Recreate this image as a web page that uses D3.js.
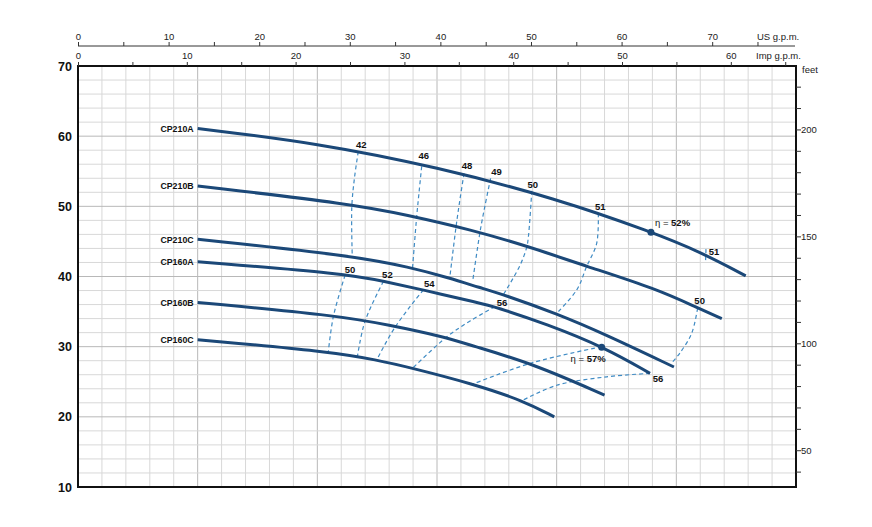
<!DOCTYPE html>
<html><head><meta charset="utf-8">
<script src="https://cdn.jsdelivr.net/npm/d3@7"></script>
<style>
body{margin:0;background:#fff}
text{font-family:"Liberation Sans",Arial,Helvetica,sans-serif}
</style>
</head><body>
<svg id="chart" width="872" height="527"></svg>
<script>
// ---------- DATA (flow in l/min, head in m) ----------
const pumpNames = ["CP210A","CP210B","CP210C","CP160A","CP160B","CP160C"];
const flowCP210A = [50,100,150,200,240,260,279];
const headCP210A = [61.1,59.0,55.6,51.1,46.3,43.5,40.1];
const flowCP210B = [50,115,137,164,188,212,242,259,269];
const headCP210B = [52.9,50.3,48.8,46.7,44.3,41.5,38.2,35.5,34.0];
const flowCP210C = [50,114,139,155,168,178,200,220,249];
const headCP210C = [45.3,43.0,41.3,39.8,38.4,37.4,34.7,31.8,27.1];
const flowCP160A = [50,112,128,144,168,174,196,220,239];
const headCP160A = [42.1,40.4,39.3,38.1,36.2,35.7,33.2,29.9,26.2];
const flowCP160B = [50,107,130,153,164,190,220];
const headCP160B = [36.3,34.5,33.1,31.4,30.2,27.6,23.1];
const flowCP160C = [50,105,125,139,165,186,199];
const headCP160C = [31.0,29.3,28.1,27.0,24.7,22.3,20.0];
const pumpFlows = [flowCP210A,flowCP210B,flowCP210C,flowCP160A,flowCP160B,flowCP160C];
const pumpHeads = [headCP210A,headCP210B,headCP210C,headCP160A,headCP160B,headCP160C];

// efficiency iso-lines (%)
const isoLabels = ["42","46","48","49","50","51","51","50","50","52","54","56","56",""];
const isoFlows = [
  [117.1,115.5,114.4,114.6],
  [143.6,142.5,141.5,139.7],
  [161.3,159.6,158.0,155.4],
  [172.4,170.0,168.0,164.9],
  [189.6,188.2,187.5,184.7,177.7],
  [217.4,216.7,212.5,208.4,200.0],
  [262.4,262.2],
  [258.9,256.4,251.5,248.1],
  [111.6,106.7,104.6],
  [127.6,119.9,116.7],
  [144.3,132.5,124.8],
  [174.2,164.0,154.1,139.4],
  [239.0,220.9,200.0,186.1],
  [218.8,189.7,165.2]
];
const isoHeads = [
  [57.8,54.0,49.9,42.8],
  [55.7,52.0,48.5,40.9],
  [54.7,51.0,47.2,40.0],
  [54.0,50.0,46.4,39.3],
  [52.2,45.7,44.2,41.6,37.4],
  [49.0,44.7,41.4,38.1,34.75],
  [43.9,42.1],
  [35.5,31.9,29.1,27.7],
  [40.2,34.3,29.3],
  [39.3,33.6,28.5],
  [38.1,32.8,28.1],
  [35.7,33.7,31.4,26.8],
  [26.2,25.7,24.5,22.4],
  [30.0,27.7,24.7]
];

// best efficiency points
const bepLabelEta = ["η","η"];
const bepLabelPct = ["52%","57%"];
const bepFlows = [239.4,218.8];
const bepHeads = [46.3,29.9];

// axis ticks
const headTicks = [10,20,30,40,50,60,70];
const feetTicks = d3.range(40,221,10);
const usTicks = d3.range(0,76,5);
const impTicks = d3.range(0,66,5);

// ---------- LAYOUT ----------
const L = 78, R = 796, T = 66, B = 487;
const x = d3.scaleLinear().domain([0,300]).range([L,R]);
const y = d3.scaleLinear().domain([10,70]).range([B,T]);
const xUS = d3.scaleLinear().domain([0,300/3.78541]).range([L,R]);
const xImp = d3.scaleLinear().domain([0,300/4.54609]).range([L,R]);
const yFt = d3.scaleLinear().domain([10/0.3048,70/0.3048]).range([B,T]);

const curveColor = "#1b4878";
const dashColor = "#3f8bc4";
// label offsets (px) for iso labels, relative to first point
const isoDx = [3,2,3,6,1,2,8,2,5,4,6,7,8,0];
const isoDy = [-4,-7,-4,-3,-3,-3.5,5.5,-4.5,-2.2,-3.2,-2.8,-1,9,0];

const svg = d3.select("#chart");
svg.append("rect").attr("width",872).attr("height",527).attr("fill","#fff");

// grid
const g = svg.append("g");
d3.range(10,300,10).forEach(q=>{
  g.append("line").attr("x1",x(q)).attr("x2",x(q)).attr("y1",T).attr("y2",B)
   .attr("stroke", q%50===0 ? "#b8b8b8" : "#d8d8d8").attr("stroke-width",1);
});
d3.range(12,70,2).forEach(h=>{
  g.append("line").attr("x1",L).attr("x2",R).attr("y1",y(h)).attr("y2",y(h))
   .attr("stroke", h%10===0 ? "#b8b8b8" : "#d8d8d8").attr("stroke-width",1);
});

// iso lines
const isoLine = d3.line().x(d=>x(d[0])).y(d=>y(d[1])).curve(d3.curveCatmullRom.alpha(0.5));
isoFlows.forEach((fl,i)=>{
  const pts = fl.map((q,j)=>[q,isoHeads[i][j]]);
  svg.append("path").attr("d",isoLine(pts)).attr("fill","none")
    .attr("stroke",dashColor).attr("stroke-width",1.2).attr("stroke-dasharray","4,3");
});

// pump curves
const pumpLine = d3.line().x(d=>x(d[0])).y(d=>y(d[1])).curve(d3.curveBasis);
pumpFlows.forEach((fl,i)=>{
  const pts = fl.map((q,j)=>[q,pumpHeads[i][j]]);
  svg.append("path").attr("d",pumpLine(pts)).attr("fill","none")
    .attr("stroke",curveColor).attr("stroke-width",3).attr("stroke-linecap","butt");
  svg.append("text").attr("x",x(fl[0])-4).attr("y",y(pumpHeads[i][0])+3.3)
    .attr("text-anchor","end").attr("font-size",8.8).attr("font-weight","bold")
    .attr("fill","#111").text(pumpNames[i]);
});

// iso labels
isoLabels.forEach((t,i)=>{
  if(!t) return;
  svg.append("text").attr("x",x(isoFlows[i][0])+isoDx[i]).attr("y",y(isoHeads[i][0])+isoDy[i])
    .attr("text-anchor","middle").attr("font-size",9.5).attr("font-weight","bold")
    .attr("fill","#111").text(t);
});

// BEP dots and labels
bepFlows.forEach((q,i)=>{
  svg.append("circle").attr("cx",x(q)).attr("cy",y(bepHeads[i])).attr("r",3.5).attr("fill",curveColor);
  const t = svg.append("text").attr("font-size",9.5).attr("fill","#111");
  if(i===0){ t.attr("x",x(q)+4).attr("y",y(bepHeads[i])-6).attr("text-anchor","start"); }
  else { t.attr("x",x(q)+4).attr("y",y(bepHeads[i])+15).attr("text-anchor","end"); }
  t.append("tspan").text(bepLabelEta[i]+" = ");
  t.append("tspan").attr("font-weight","bold").text(bepLabelPct[i]);
});

// frame
svg.append("rect").attr("x",L).attr("y",T).attr("width",R-L).attr("height",B-T)
  .attr("fill","none").attr("stroke","#111").attr("stroke-width",2);

// left axis
const ax = svg.append("g").attr("transform",`translate(${L},0)`)
  .call(d3.axisLeft(y).tickValues(headTicks).tickSize(0).tickPadding(6).tickFormat(d3.format("d")));
ax.select(".domain").remove();
ax.selectAll("text").attr("font-size",12.5).attr("font-weight","bold").attr("fill","#111")
  .attr("font-family","'Liberation Sans',Arial,sans-serif");

// right axis (feet)
const ar = svg.append("g").attr("transform",`translate(${R},0)`)
  .call(d3.axisRight(yFt).tickValues(feetTicks).tickSize(5).tickPadding(0)
    .tickFormat(d=> d%50===0 ? d : ""));
ar.select(".domain").remove();
ar.selectAll("line").attr("stroke","#333");
ar.selectAll("text").attr("font-size",9.5).attr("fill","#222")
  .attr("font-family","'Liberation Sans',Arial,sans-serif");
svg.append("text").attr("x",802).attr("y",73).attr("font-size",9.5).attr("fill","#222").text("feet");

// top Imp axis (on the frame)
const ai = svg.append("g").attr("transform",`translate(0,${T})`)
  .call(d3.axisTop(xImp).tickValues(impTicks).tickSize(4).tickPadding(3)
    .tickFormat(d=> d%10===0 ? d : ""));
ai.select(".domain").remove();
ai.selectAll("line").attr("stroke","#333");
ai.selectAll("text").attr("font-size",9.5).attr("fill","#222")
  .attr("font-family","'Liberation Sans',Arial,sans-serif");
svg.append("text").attr("x",756).attr("y",59).attr("font-size",9.5).attr("fill","#222").text("Imp g.p.m.");

// top US axis
const au = svg.append("g").attr("transform",`translate(0,46)`)
  .call(d3.axisTop(xUS).tickValues(usTicks).tickSize(4).tickPadding(2)
    .tickFormat(d=> d%10===0 && d<=70 ? d : ""));
au.select(".domain").attr("d",`M${L},0H${R-1}`).attr("stroke","#333");
au.selectAll("line").attr("stroke","#333");
au.selectAll("text").attr("font-size",9.5).attr("fill","#222")
  .attr("font-family","'Liberation Sans',Arial,sans-serif");
svg.append("text").attr("x",757).attr("y",40).attr("font-size",9.5).attr("fill","#222").text("US g.p.m.");
</script>
</body></html>
